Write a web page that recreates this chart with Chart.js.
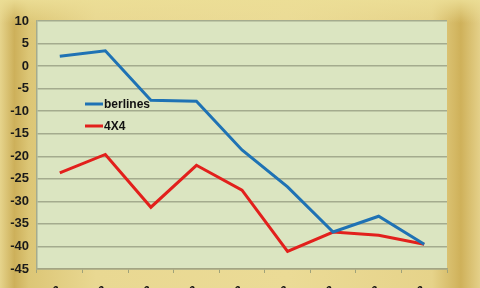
<!DOCTYPE html>
<html>
<head>
<meta charset="utf-8">
<script src="https://cdn.jsdelivr.net/npm/chart.js@4/dist/chart.umd.min.js"></script>
<style>
  html, body { margin: 0; padding: 0; width: 480px; height: 288px; overflow: hidden; }
  body {
    background:
      linear-gradient(180deg, rgba(236,222,150,0.9) 0%, rgba(236,222,150,0) 8%),
      linear-gradient(90deg, #e6d48c 0%, #cdb05a 3%, #dcc676 6%, #e9d892 20%, #ebdb96 60%, #e6d38a 90%, #cfb15a 96%, #e4d089 100%);
  }
  #wrap { position: absolute; left: 0; top: 0; width: 480px; height: 288px; }
</style>
</head>
<body>
<div id="wrap"><canvas id="chart" width="480" height="288"></canvas></div>
<script>
// categories (labels are cut off at the bottom of the picture)
const categories = ['janv-08', 'févr-08', 'mars-08', 'avr-08', 'mai-08', 'juin-08', 'juil-08', 'août-08', 'sept-08'];
const berlines = [2.2, 3.4, -7.6, -7.8, -18.6, -26.8, -36.8, -33.3, -39.5];
const quatreX4 = [-23.7, -19.6, -31.3, -22.0, -27.5, -41.1, -36.8, -37.5, -39.5];
const yTicks = [10, 5, 0, -5, -10, -15, -20, -25, -30, -35, -40, -45];

// plot area fill
const plotBg = {
  id: 'plotBg',
  beforeDraw(chart) {
    const { ctx, chartArea: a } = chart;
    ctx.save();
    ctx.fillStyle = '#dbe5c1';
    ctx.fillRect(a.left, a.top, a.right - a.left, a.bottom - a.top);
    ctx.restore();
  }
};

// legend drawn inside the plot, like the original
const innerLegend = {
  id: 'innerLegend',
  afterDatasetsDraw(chart) {
    const { ctx } = chart;
    ctx.save();
    ctx.font = 'bold 12px "Liberation Sans", Arial, sans-serif';
    ctx.textBaseline = 'middle';
    chart.data.datasets.forEach((ds, i) => {
      const y = 104 + i * 22;
      ctx.strokeStyle = ds.borderColor;
      ctx.lineWidth = 3;
      ctx.beginPath();
      ctx.moveTo(85, y);
      ctx.lineTo(103, y);
      ctx.stroke();
      ctx.fillStyle = '#111';
      ctx.fillText(ds.label, 104, y + 1);
    });
    ctx.restore();
  }
};

new Chart(document.getElementById('chart'), {
  type: 'line',
  data: {
    labels: categories,
    datasets: [
      { label: 'berlines', data: berlines, borderColor: '#1f72b4', borderWidth: 3, pointRadius: 0, tension: 0 },
      { label: '4X4', data: quatreX4, borderColor: '#e2201c', borderWidth: 3, pointRadius: 0, tension: 0 }
    ]
  },
  options: {
    responsive: false,
    animation: false,
    layout: { padding: { left: 0, right: 33, top: 21, bottom: 0 } },
    plugins: { legend: { display: false }, tooltip: { enabled: false } },
    scales: {
      x: {
        offset: true,
        afterFit: s => { s.height = 19; },
        grid: { display: true, drawOnChartArea: false, offset: true, color: '#9fa27a', tickLength: 4 },
        border: { color: '#a3a584', width: 1.5 },
        ticks: { minRotation: 45, maxRotation: 45, padding: 10, color: '#111', font: { family: 'Liberation Sans', size: 12, weight: 'bold' } }
      },
      y: {
        min: -45, max: 10,
        afterFit: s => { s.width = 37; },
        afterBuildTicks: s => { s.ticks = yTicks.map(v => ({ value: v })); },
        grid: { color: '#a4ab8e', lineWidth: 1.5, drawTicks: false },
        border: { color: '#a4ab8e', width: 1.5 },
        ticks: { padding: 8, color: '#1a1a1a', font: { family: 'Liberation Sans', size: 13, weight: 'bold' } }
      }
    }
  },
  plugins: [plotBg, innerLegend]
});
</script>
</body>
</html>
